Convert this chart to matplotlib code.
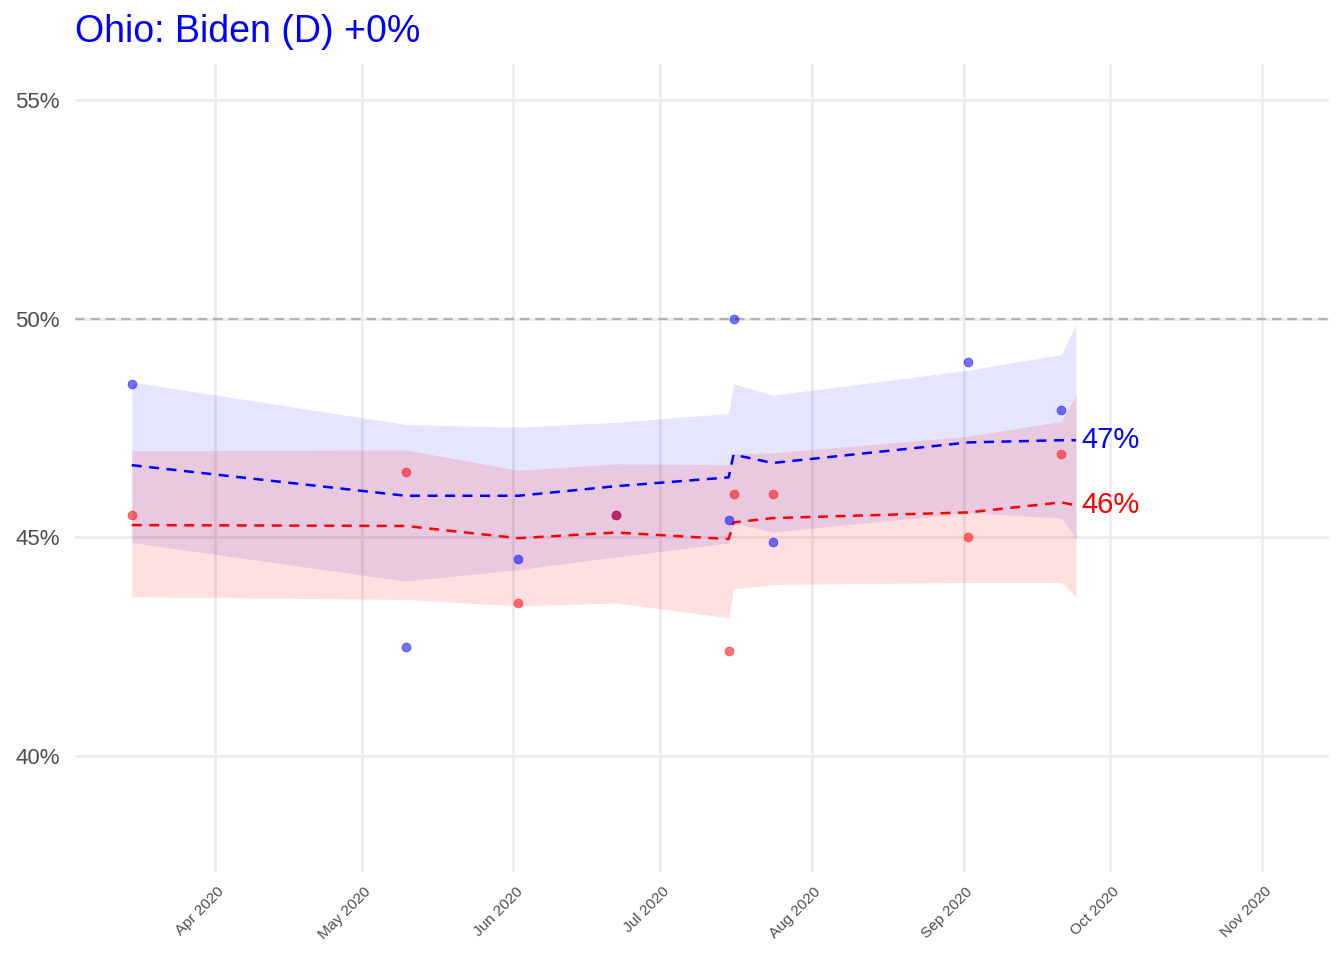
import matplotlib
matplotlib.use('Agg')
import matplotlib.pyplot as plt
import matplotlib.dates as mdates
import matplotlib.transforms as mtransforms
import pandas as pd

plt.rcParams['font.family'] = ['Liberation Sans', 'DejaVu Sans']

# individual polls
poll_dates = pd.to_datetime(['2020-03-15', '2020-05-10', '2020-06-02', '2020-06-22', '2020-07-15',
                             '2020-07-16', '2020-07-24', '2020-09-02', '2020-09-21'])
biden_polls = [48.5, 42.5, 44.5, 45.5, 45.4, 50.0, 44.9, 49.0, 47.9]
trump_polls = [45.5, 46.5, 43.5, 45.5, 42.4, 46.0, 46.0, 45.0, 46.9]

# trend lines + bands
trend_dates = pd.to_datetime(['2020-03-15', '2020-05-10', '2020-06-02', '2020-06-22', '2020-07-15',
                              '2020-07-16', '2020-07-24', '2020-09-02', '2020-09-21', '2020-09-24'])
biden_trend = [46.65, 45.95, 45.95, 46.17, 46.37, 46.89, 46.70, 47.17, 47.22, 47.22]
biden_lo = [44.88, 44.00, 44.26, 44.55, 44.87, 45.33, 45.12, 45.56, 45.44, 44.98]
biden_hi = [48.55, 47.58, 47.52, 47.63, 47.83, 48.51, 48.25, 48.82, 49.18, 49.86]
trump_trend = [45.28, 45.26, 44.98, 45.11, 44.96, 45.34, 45.44, 45.57, 45.80, 45.73]
trump_lo = [43.64, 43.58, 43.43, 43.50, 43.16, 43.82, 43.92, 43.97, 43.97, 43.64]
trump_hi = [46.98, 47.00, 46.53, 46.68, 46.66, 46.91, 46.93, 47.31, 47.65, 48.26]

month_ticks = pd.date_range('2020-04-01', '2020-11-01', freq='MS')
y_ticks = [40, 45, 50, 55]

fig = plt.figure(figsize=(13.44, 9.6), dpi=100)
ax = fig.add_axes([75 / 1344, 1 - 872 / 960, (1329 - 75) / 1344, (872 - 64) / 960])

ax.fill_between(trend_dates, biden_lo, biden_hi, color='blue', alpha=0.1, lw=0)
ax.fill_between(trend_dates, trump_lo, trump_hi, color='red', alpha=0.12, lw=0)

ax.axhline(50, color='#B3B3B3', lw=1.7, ls=(0, (4, 2.5)), zorder=2)

ax.plot(trend_dates, biden_trend, color='blue', lw=1.8, ls=(0, (4, 3)), zorder=3)
ax.plot(trend_dates, trump_trend, color='red', lw=1.8, ls=(0, (4, 3)), zorder=3)

ax.scatter(poll_dates, biden_polls, s=40, color='blue', alpha=0.55, lw=0.6, zorder=4)
ax.scatter(poll_dates, trump_polls, s=40, color='red', alpha=0.55, lw=0.6, zorder=4)

# end labels
lab_x = trend_dates[-1] + pd.Timedelta(days=1)
ax.text(lab_x, biden_trend[-1], f'{round(biden_trend[-1])}%', color='blue', fontsize=21, va='center', ha='left')
ax.text(lab_x, trump_trend[-1], f'{round(trump_trend[-1])}%', color='red', fontsize=21, va='center', ha='left')

apr1 = pd.Timestamp('2020-04-01')
ax.set_xlim(apr1 - pd.Timedelta(days=28.6), apr1 + pd.Timedelta(days=227.7))
ax.set_ylim(37.35, 55.82)

ax.set_xticks(month_ticks)
ax.xaxis.set_major_formatter(mdates.DateFormatter('%b %Y'))
ax.set_yticks(y_ticks)
ax.set_yticklabels([f'{v}%' for v in y_ticks])

ax.tick_params(axis='y', length=0, pad=11, labelsize=16, labelcolor='#4D4D4D')
ax.tick_params(axis='x', length=0, pad=9, labelsize=11, labelcolor='#4D4D4D')
offset = mtransforms.ScaledTranslation(2 / 100, 0, fig.dpi_scale_trans)
for lbl in ax.get_xticklabels():
    lbl.set_rotation(45)
    lbl.set_ha('right')
    lbl.set_va('top')
    lbl.set_rotation_mode('anchor')
    lbl.set_transform(lbl.get_transform() + offset)

for s in ax.spines.values():
    s.set_visible(False)
ax.grid(True, color='#EBEBEB', lw=1.8)
ax.set_axisbelow(True)

fig.text(75 / 1344, 1 - 42 / 960, 'Ohio: Biden (D) +0%', color='blue', fontsize=27, ha='left', va='baseline')

fig.savefig('out.png', dpi=100)
